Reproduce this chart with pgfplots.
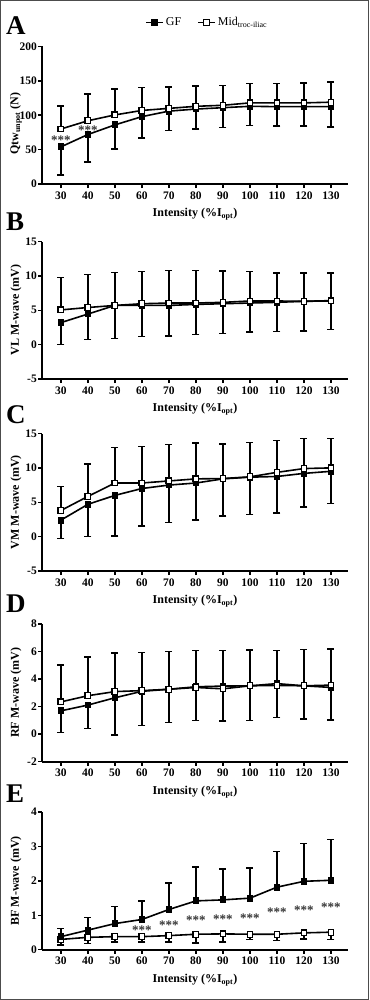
\documentclass[border=0pt]{standalone}
\usepackage{fontspec}
\setmainfont{Liberation Serif}
\usepackage{pgfplots}
\pgfplotsset{compat=1.18}
\newcommand{\tfont}{\fontsize{11.5}{13}\selectfont\bfseries}
\newcommand{\lfont}{\fontsize{12}{14}\selectfont\bfseries}
\newcommand{\sfont}{\fontsize{13}{14}\selectfont\bfseries}
\pgfplotsset{
  panel/.style={
    scale only axis, width=306pt, height=137.5pt, anchor=south west,
    xmin=23, xmax=136.3, xtick={30,40,...,130},
    axis lines=left, axis line style={line width=1.7pt,-},
    tick style={line width=1.5pt,black}, tick align=outside, major tick length=4pt,
    ticklabel style={font=\tfont},
    yticklabel style={inner xsep=1pt},
    /pgf/number format/assume math mode=true,
    xlabel={Intensity (\%I\textsubscript{opt})},
    xlabel style={at={(axis description cs:0.5,0)}, anchor=base, yshift=-32.7pt, font=\lfont},
    ylabel style={at={(axis description cs:-0.085,0.5)}, anchor=center, font=\lfont},
    clip=false,
  },
  gf/.style={black, line width=1.6pt, mark=square*, mark size=2.9pt,
    mark options={fill=black, line width=1pt, solid},
    error bars/y explicit,
    error bars/error bar style={line width=1.5pt, black},
    error bars/error mark options={rotate=90, mark size=3.5pt, line width=1.5pt, black}},
  mid/.style={black, line width=1.6pt, mark=square*, mark size=2.9pt,
    mark options={fill=white, line width=1.1pt, solid},
    error bars/y explicit,
    error bars/error bar style={line width=1.5pt, black},
    error bars/error mark options={rotate=90, mark size=3.5pt, line width=1.5pt, black}},
}
\begin{document}
\begin{tikzpicture}
\useasboundingbox (0,0) rectangle (369pt,-1000pt);
\draw[line width=1pt, black!70] (0.5pt,-0.5pt) rectangle (368.5pt,-999.5pt);
% Panel A
\begin{axis}[panel, at={(42pt,-184pt)}, ymin=0, ymax=200, ytick={0,50,...,200},
  ylabel={Qtw\textsubscript{unpot} (N)},
  ylabel style={at={(axis description cs:-0.085,0.44)}},
  legend columns=2,
  legend style={draw=none, fill=none, at={(0.54,1.174)}, anchor=center,
    font=\fontsize{12}{14}\selectfont, /tikz/every even column/.append style={column sep=14pt}}]
\addplot[gf, error bars/y dir=minus] coordinates {
(30,54) +- (0,41) (40,72) +- (0,40) (50,86) +- (0,35) (60,98) +- (0,31)
(70,106) +- (0,28) (80,109) +- (0,29) (90,111) +- (0,29) (100,113) +- (0,28)
(110,112.5) +- (0,28.5) (120,112.5) +- (0,28.5) (130,112.5) +- (0,29.5)};
\addlegendentry{GF}
\addplot[mid, error bars/y dir=plus] coordinates {
(30,80) +- (0,33.5) (40,92) +- (0,39) (50,100.5) +- (0,37.5) (60,107) +- (0,33)
(70,110) +- (0,31) (80,113) +- (0,29.5) (90,114.5) +- (0,29) (100,118) +- (0,28)
(110,118) +- (0,28) (120,118) +- (0,29) (130,119) +- (0,29)};
\addlegendentry{Mid\textsubscript{troc-iliac}}
\node[font=\sfont, text=black!80] at (axis cs:30,64) {***};
\node[font=\sfont, text=black!80] at (axis cs:40,78) {***};
\end{axis}
% Panel B
\begin{axis}[panel, at={(42pt,-379pt)}, ymin=-5, ymax=15, ytick={-5,0,...,15},
  ylabel={VL M-wave (mV)}]
\addplot[gf, error bars/y dir=minus] coordinates {
(30,3.2) +- (0,3.2) (40,4.45) +- (0,3.7) (50,5.7) +- (0,4.8) (60,5.7) +- (0,4.55)
(70,5.7) +- (0,4.45) (80,5.85) +- (0,4.4) (90,5.95) +- (0,4.3) (100,6.05) +- (0,4.2)
(110,6.15) +- (0,4.25) (120,6.3) +- (0,4.3) (130,6.4) +- (0,4.2)};
\addplot[mid, error bars/y dir=plus] coordinates {
(30,5.05) +- (0,4.75) (40,5.4) +- (0,4.8) (50,5.7) +- (0,4.8) (60,5.95) +- (0,4.7)
(70,6.05) +- (0,4.75) (80,6.05) +- (0,4.75) (90,6.15) +- (0,4.55) (100,6.35) +- (0,4.3)
(110,6.35) +- (0,4.1) (120,6.3) +- (0,4.15) (130,6.35) +- (0,4.05)};
\end{axis}
% Panel C
\begin{axis}[panel, at={(42pt,-571pt)}, ymin=-5, ymax=15, ytick={-5,0,...,15},
  ylabel={VM M-wave (mV)}]
\addplot[gf, error bars/y dir=minus] coordinates {
(30,2.4) +- (0,2.65) (40,4.7) +- (0,4.7) (50,6.0) +- (0,5.9) (60,7.0) +- (0,5.45)
(70,7.5) +- (0,5.45) (80,7.8) +- (0,5.4) (90,8.4) +- (0,5.4) (100,8.65) +- (0,5.4)
(110,8.75) +- (0,5.3) (120,9.2) +- (0,4.9) (130,9.5) +- (0,4.7)};
\addplot[mid, error bars/y dir=plus] coordinates {
(30,3.8) +- (0,3.5) (40,5.85) +- (0,4.75) (50,7.8) +- (0,5.2) (60,7.8) +- (0,5.3)
(70,8.1) +- (0,5.3) (80,8.4) +- (0,5.2) (90,8.45) +- (0,5.05) (100,8.7) +- (0,5.0)
(110,9.35) +- (0,4.6) (120,9.9) +- (0,4.4) (130,10.0) +- (0,4.25)};
\end{axis}
% Panel D
\begin{axis}[panel, at={(42pt,-761.7pt)}, ymin=-2, ymax=8, ytick={-2,0,...,8},
  ylabel={RF M-wave (mV)}]
\addplot[gf, error bars/y dir=minus] coordinates {
(30,1.7) +- (0,1.56) (40,2.12) +- (0,1.72) (50,2.65) +- (0,2.7) (60,3.12) +- (0,2.5)
(70,3.27) +- (0,2.43) (80,3.45) +- (0,2.45) (90,3.5) +- (0,2.54) (100,3.52) +- (0,2.52)
(110,3.68) +- (0,2.48) (120,3.52) +- (0,2.42) (130,3.4) +- (0,2.38)};
\addplot[mid, error bars/y dir=plus] coordinates {
(30,2.35) +- (0,2.68) (40,2.8) +- (0,2.8) (50,3.1) +- (0,2.8) (60,3.17) +- (0,2.78)
(70,3.27) +- (0,2.73) (80,3.4) +- (0,2.7) (90,3.3) +- (0,2.8) (100,3.52) +- (0,2.6)
(110,3.55) +- (0,2.55) (120,3.52) +- (0,2.63) (130,3.57) +- (0,2.63)};
\end{axis}
% Panel E
\begin{axis}[panel, at={(42pt,-949.7pt)}, ymin=0, ymax=4, ytick={0,1,...,4},
  ylabel={BF M-wave (mV)}]
\addplot[mid, error bars/y dir=minus] coordinates {
(30,0.3) +- (0,0.17) (40,0.36) +- (0,0.18) (50,0.38) +- (0,0.16) (60,0.38) +- (0,0.16)
(70,0.41) +- (0,0.18) (80,0.45) +- (0,0.25) (90,0.46) +- (0,0.23) (100,0.45) +- (0,0.15)
(110,0.45) +- (0,0.18) (120,0.49) +- (0,0.18) (130,0.51) +- (0,0.21)};
\addplot[gf, error bars/y dir=plus] coordinates {
(30,0.38) +- (0,0.24) (40,0.57) +- (0,0.36) (50,0.76) +- (0,0.49) (60,0.88) +- (0,0.53)
(70,1.17) +- (0,0.77) (80,1.42) +- (0,0.99) (90,1.45) +- (0,0.9) (100,1.5) +- (0,0.88)
(110,1.82) +- (0,1.04) (120,1.99) +- (0,1.1) (130,2.02) +- (0,1.19)};
\node[font=\sfont, text=black!80] at (axis cs:60,0.57) {***};
\node[font=\sfont, text=black!80] at (axis cs:70,0.71) {***};
\node[font=\sfont, text=black!80] at (axis cs:80,0.86) {***};
\node[font=\sfont, text=black!80] at (axis cs:90,0.88) {***};
\node[font=\sfont, text=black!80] at (axis cs:100,0.91) {***};
\node[font=\sfont, text=black!80] at (axis cs:110,1.08) {***};
\node[font=\sfont, text=black!80] at (axis cs:120,1.16) {***};
\node[font=\sfont, text=black!80] at (axis cs:130,1.23) {***};
\end{axis}
% Panel letters
\foreach \L/\Y in {A/35,B/230,C/423,D/612,E/802}
  \node[anchor=base west, inner sep=0, font=\fontsize{27}{27}\selectfont\bfseries] at (6pt,-\Y pt) {\L};
\end{tikzpicture}
\end{document}
